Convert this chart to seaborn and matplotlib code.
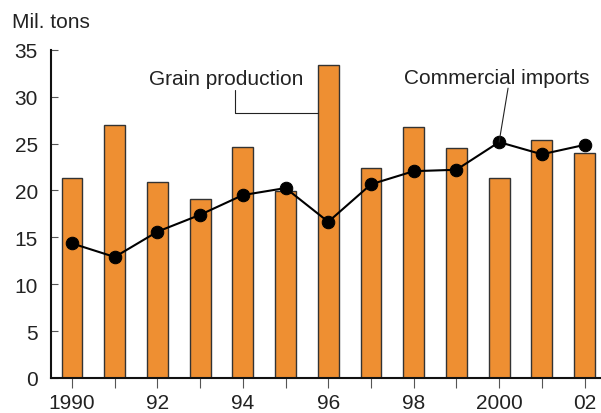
import seaborn as sns
import matplotlib.pyplot as plt
import pandas as pd

years = [1990, 1991, 1992, 1993, 1994, 1995, 1996, 1997, 1998, 1999, 2000, 2001, 2002]
grain = [21.3, 26.95, 20.85, 19.1, 24.65, 19.95, 33.35, 22.4, 26.75, 24.5, 21.3, 25.4, 24.0]
imports = [14.35, 12.9, 15.6, 17.4, 19.5, 20.25, 16.65, 20.65, 22.05, 22.2, 25.15, 23.85, 24.85]
tick_labels = ['1990', '', '92', '', '94', '', '96', '', '98', '', '2000', '', '02']

df = pd.DataFrame({'year': years, 'grain': grain, 'imports': imports})

sns.set_style('ticks')
plt.rcParams['font.family'] = ['Liberation Sans', 'DejaVu Sans']
txt = '#222222'

fig = plt.figure(figsize=(6.01, 4.14), dpi=100)
ax = fig.add_axes([51 / 601, 35 / 414, 550 / 601, 328.3 / 414])

bar_w = 0.49
sns.barplot(data=df, x='year', y='grain', native_scale=True, width=bar_w,
            color='#EE8F32', saturation=1, edgecolor='#333333', linewidth=1.0, ax=ax)
sns.lineplot(data=df, x='year', y='imports', color='black', lw=1.5, marker='o',
             markersize=9, markeredgecolor='black', ax=ax)

ax.set_xlim(1989.508, 2002.386)
ax.set_ylim(0, 35)
ax.set_xticks(years)
ax.set_xticklabels(tick_labels)
ax.set_yticks(range(0, 36, 5))
ax.set_xlabel('')
ax.set_ylabel('')

sns.despine(ax=ax)
for s in ['left', 'bottom']:
    ax.spines[s].set_linewidth(1.5)
    ax.spines[s].set_color('#111111')

ax.tick_params(axis='x', direction='out', length=7.5, width=0.8, color='#555555',
               pad=3.5, labelsize=15, labelcolor=txt)
ax.tick_params(axis='y', direction='in', length=5, width=0.8, color='#555555',
               pad=9.4, labelsize=15, labelcolor=txt)

fig.text(12 / 601, 1 - 28 / 414, 'Mil. tons', fontsize=15, color=txt, va='baseline')

# annotations
ax.text(1993.62, 31.3, 'Grain production', fontsize=15, color=txt, ha='center', va='baseline')
ax.annotate('', xy=(years[6] - bar_w / 2, 28.25), xytext=(1993.81, 30.7),
            arrowprops=dict(arrowstyle='-', connectionstyle='angle,angleA=90,angleB=0,rad=0',
                            shrinkA=0, shrinkB=0, lw=0.8, color=txt))
ax.text(1999.94, 31.4, 'Commercial imports', fontsize=15, color=txt, ha='center', va='baseline',
        clip_on=False)
ax.annotate('', xy=(years[10], imports[10]), xytext=(2000.21, 30.9),
            arrowprops=dict(arrowstyle='-', shrinkA=0, shrinkB=0, lw=0.8, color=txt))

fig.savefig('out.png', dpi=100)
